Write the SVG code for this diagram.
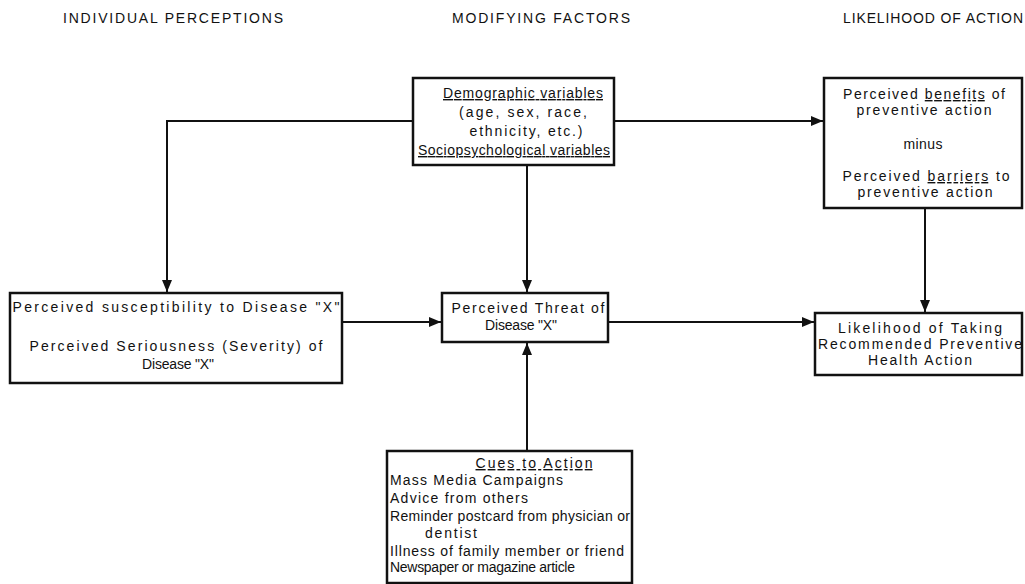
<svg xmlns="http://www.w3.org/2000/svg" width="1025" height="584" viewBox="0 0 1025 584">
<style>
.box{fill:#fff;stroke:#111;stroke-width:2.5}
.t{font-family:"Liberation Sans",Arial,sans-serif;font-size:14px;fill:#111}
.h{font-family:"Liberation Sans",Arial,sans-serif;font-size:14px;fill:#111}
.c{text-anchor:middle}
.u{text-decoration:underline}
.ln{fill:none;stroke:#111;stroke-width:2}
</style>
<defs>
<marker id="ar" viewBox="0 0 12 10" refX="12" refY="5" markerWidth="12" markerHeight="10" markerUnits="userSpaceOnUse" orient="auto">
<path d="M0,0 L12,5 L0,10 Z" fill="#111"/>
</marker>
</defs>
<rect width="1025" height="584" fill="#fff"/>
<g id="headers">
<text class="h" x="63" y="23" textLength="220">INDIVIDUAL PERCEPTIONS</text>
<text class="h" x="452" y="23" textLength="178">MODIFYING FACTORS</text>
<text class="h" x="843" y="23" textLength="180">LIKELIHOOD OF ACTION</text>
</g>
<g id="connectors">
<path class="ln" d="M413,121 H167 V292" marker-end="url(#ar)"/>
<path class="ln" d="M614,121 H823" marker-end="url(#ar)"/>
<path class="ln" d="M527,165 V292" marker-end="url(#ar)"/>
<path class="ln" d="M925,208 V312" marker-end="url(#ar)"/>
<path class="ln" d="M342,322 H441" marker-end="url(#ar)"/>
<path class="ln" d="M608,322 H814" marker-end="url(#ar)"/>
<path class="ln" d="M527,451 V343" marker-end="url(#ar)"/>
</g>
<g id="demographic">
<rect class="box" x="413" y="78" width="201" height="87"/>
<text class="t c u" x="523" y="98" textLength="160">Demographic variables</text>
<text class="t c" x="523" y="117" textLength="128">(age, sex, race,</text>
<text class="t c" x="526" y="136" textLength="113">ethnicity, etc.)</text>
<text class="t c u" x="514" y="155" textLength="192">Sociopsychological variables</text>
</g>
<g id="benefits">
<rect class="box" x="824" y="78" width="198" height="130"/>
<text class="t c" x="924" y="99" textLength="162">Perceived <tspan class="u">benefits</tspan> of</text>
<text class="t c" x="924" y="115" textLength="135">preventive action</text>
<text class="t c" x="923" y="149" textLength="39">minus</text>
<text class="t c" x="926" y="181" textLength="167">Perceived <tspan class="u">barriers</tspan> to</text>
<text class="t c" x="925" y="197" textLength="135">preventive action</text>
</g>
<g id="susceptibility">
<rect class="box" x="10" y="293" width="332" height="90"/>
<text class="t c" x="176" y="312" textLength="327">Perceived susceptibility to Disease "X"</text>
<text class="t c" x="176" y="351" textLength="293">Perceived Seriousness (Severity) of</text>
<text class="t c" x="178" y="369" textLength="72">Disease "X"</text>
</g>
<g id="threat">
<rect class="box" x="442" y="293" width="166" height="49"/>
<text class="t c" x="528" y="313" textLength="153">Perceived Threat of</text>
<text class="t c" x="521" y="330" textLength="72">Disease "X"</text>
</g>
<g id="likelihood">
<rect class="box" x="815" y="313" width="207" height="62"/>
<text class="t c" x="920" y="333" textLength="164">Likelihood of Taking</text>
<text class="t c" x="920" y="349" textLength="204">Recommended Preventive</text>
<text class="t c" x="920" y="365" textLength="104">Health Action</text>
</g>
<g id="cues">
<rect class="box" x="387" y="451" width="245" height="132"/>
<text class="t c u" x="534" y="468" textLength="117">Cues to Action</text>
<text class="t" x="390" y="485" textLength="173">Mass Media Campaigns</text>
<text class="t" x="390" y="503" textLength="138">Advice from others</text>
<text class="t" x="390" y="521" textLength="240">Reminder postcard from physician or</text>
<text class="t" x="425" y="538" textLength="52">dentist</text>
<text class="t" x="390" y="556" textLength="234">Illness of family member or friend</text>
<text class="t" x="390" y="572" textLength="185">Newspaper or magazine article</text>
</g>
</svg>
